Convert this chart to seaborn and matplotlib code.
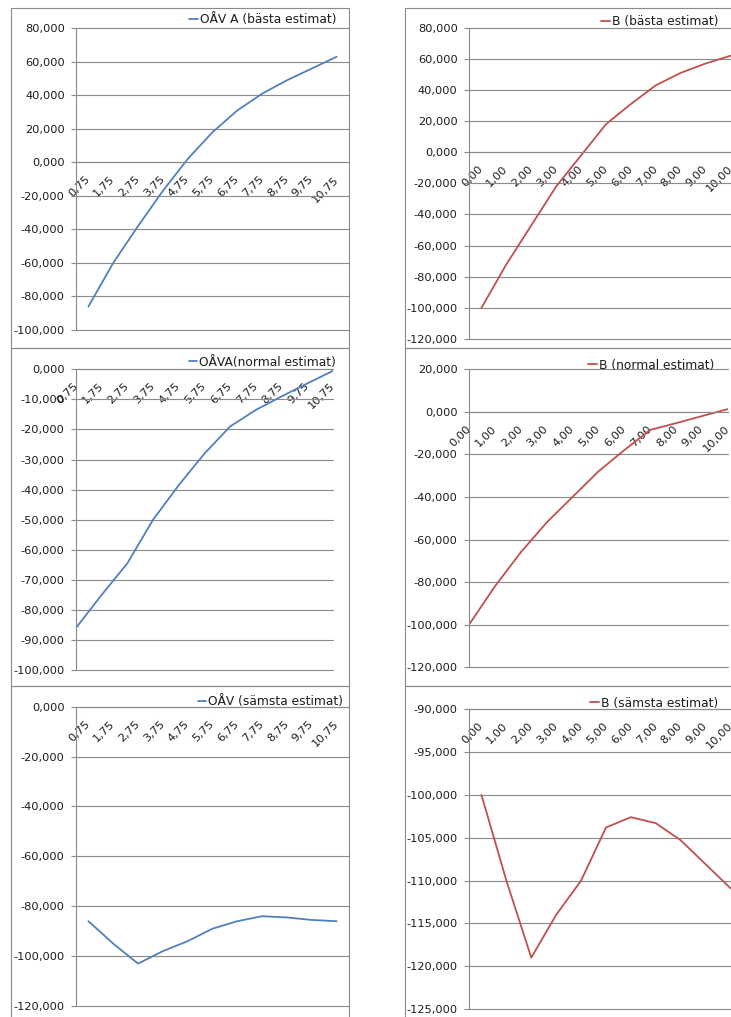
import numpy as np
import pandas as pd
import matplotlib
matplotlib.use("Agg")
import matplotlib.pyplot as plt
import seaborn as sns
from matplotlib.ticker import FuncFormatter, MultipleLocator
from matplotlib.patches import Rectangle

# Category labels (time points)
oav_periods = ["0,75", "1,75", "2,75", "3,75", "4,75", "5,75",
               "6,75", "7,75", "8,75", "9,75", "10,75"]
b_periods = ["0,00", "1,00", "2,00", "3,00", "4,00", "5,00",
             "6,00", "7,00", "8,00", "9,00", "10,00"]

# Series values
oav_basta = [-86.0, -60.0, -38.0, -17.0, 2.0, 18.0, 31.0, 41.0, 49.0, 56.0, 63.0]
oav_normal = [-86.0, -75.0, -64.5, -50.0, -38.5, -28.0, -19.0, -13.5, -9.0, -4.7, -0.5]
oav_samsta = [-86.0, -95.0, -103.0, -98.0, -94.0, -89.0, -86.0, -84.0, -84.5, -85.5, -86.0]
b_basta = [-100.0, -72.0, -47.0, -22.0, -2.0, 18.0, 31.0, 43.0, 51.0, 57.0, 62.0]
b_normal = [-100.0, -82.0, -66.0, -52.0, -40.0, -28.0, -18.0, -8.5, -5.3, -2.0, 1.3]
b_samsta = [-100.0, -110.0, -119.0, -114.0, -110.0, -103.8, -102.6, -103.3, -105.3, -108.1, -110.9]

BLUE = "#4F81BD"
RED = "#C0504D"
GRID = "#8A8A8A"
TEXT = "#1c1c1c"
FS = 8.2
LEG_FS = 8.8

W, H = 731, 1017
sns.set_style("white")
plt.rcParams["font.family"] = ["DejaVu Sans"]

fig = plt.figure(figsize=(W / 100, H / 100), dpi=100)
fig.patch.set_facecolor("white")


def frame(x0, y0, x1, y1):
    fig.add_artist(Rectangle((x0 / W, 1 - y1 / H), (x1 - x0) / W, (y1 - y0) / H,
                             transform=fig.transFigure, fill=False,
                             edgecolor=GRID, linewidth=0.8, zorder=0))


def fmt(v, _pos):
    return f"{v:.3f}".replace(".", ",")


def panel(box, cats, values, label, color, ylim, ystep, between, axis_at, legend_xy):
    x0, yt, x1, yb = box
    ax = fig.add_axes([x0 / W, 1 - yb / H, (x1 - x0) / W, (yb - yt) / H])
    ax.set_facecolor("none")
    n = len(cats)
    df = pd.DataFrame({"pos": np.arange(n), "value": values})
    sns.lineplot(data=df, x="pos", y="value", ax=ax, color=color,
                 linewidth=1.3, label=label)

    # spines first: repositioning a spine rebuilds the tick objects
    for side in ("top", "right"):
        ax.spines[side].set_visible(False)
    ax.spines["left"].set_color(GRID)
    ax.spines["left"].set_linewidth(0.8)
    ax.spines["bottom"].set_color(GRID)
    ax.spines["bottom"].set_linewidth(0.8)
    ax.spines["bottom"].set_position(("data", axis_at))

    ax.set_ylim(*ylim)
    ax.yaxis.set_major_locator(MultipleLocator(ystep))
    ax.yaxis.set_major_formatter(FuncFormatter(fmt))
    ax.grid(axis="y", color=GRID, linewidth=0.8)
    ax.grid(axis="x", visible=False)
    ax.set_axisbelow(True)

    if between:
        ax.set_xlim(-0.5, n - 0.5)
        ax.set_xticks(np.arange(n))
        ax.set_xticks(np.arange(-0.5, n, 1.0), minor=True)
        ax.tick_params(axis="x", which="major", length=0, pad=11)
        ax.tick_params(axis="x", which="minor", length=3, width=0.8,
                       color=GRID, direction="out")
    else:
        ax.set_xlim(0, n - 1)
        ax.set_xticks(np.arange(n))
        ax.tick_params(axis="x", which="major", length=3, width=0.8,
                       color=GRID, direction="out", pad=8)
    ax.set_xticklabels(cats, fontsize=FS, color=TEXT)
    for t in ax.get_xticklabels():
        t.set_rotation(45)
        t.set_rotation_mode("anchor")
        t.set_ha("right")
        t.set_va("center")

    ax.tick_params(axis="y", length=3.6, width=0.8, color=GRID, direction="out",
                   pad=4.5, labelsize=FS, labelcolor=TEXT, left=True)

    ax.set_xlabel("")
    ax.set_ylabel("")

    handles, labels = ax.get_legend_handles_labels()
    lx, ly = legend_xy
    ax.legend(handles, labels, loc="center right",
              bbox_to_anchor=(lx / W, 1 - ly / H), bbox_transform=fig.transFigure,
              frameon=False, fontsize=LEG_FS, handlelength=0.7, handletextpad=0.15,
              borderpad=0, borderaxespad=0, labelcolor=TEXT)

    # keep the gridlines at the plot edges fully drawn
    fig.canvas.draw()
    for gl in ax.yaxis.get_gridlines():
        gl.set_clip_on(False)
    return ax


# chart-area frames
for (cx0, cx1) in ((11, 349), (405, 780)):
    for (cy0, cy1) in ((8, 348), (348, 686), (686, 1040)):
        frame(cx0, cy0, cx1, cy1)

panel((76, 28.3, 349, 330), oav_periods, oav_basta, "OÅV A (bästa estimat)", BLUE,
      (-100, 80), 20, True, 0, (336, 20))
panel((76, 369.3, 333, 670), oav_periods, oav_normal, "OÅVA(normal estimat)", BLUE,
      (-100, 0), 10, False, 0, (336, 362))
panel((76, 706.7, 349, 1006), oav_periods, oav_samsta, "OÅV (sämsta estimat)", BLUE,
      (-120, 0), 20, True, 0, (343, 702))

panel((469, 27.7, 743, 339), b_periods, b_basta, "B (bästa estimat)", RED,
      (-120, 80), 20, True, 0, (718, 22))
panel((469, 369.3, 727.7, 667.3), b_periods, b_normal, "B (normal estimat)", RED,
      (-120, 20), 20, False, 0, (714, 365))
panel((469, 709.3, 743, 1009), b_periods, b_samsta, "B (sämsta estimat)", RED,
      (-125, -90), 5, True, -90, (718, 703))

fig.savefig("out.png", dpi=100)
